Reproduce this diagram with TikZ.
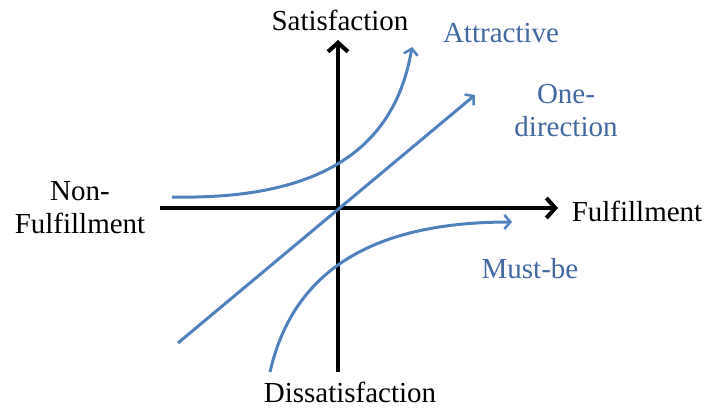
\documentclass[tikz,border=0pt]{standalone}
\usepackage{fontspec}
\setmainfont{Liberation Serif}
\usetikzlibrary{arrows.meta}
\definecolor{curveblue}{RGB}{79,129,189}
\definecolor{labelblue}{RGB}{66,104,162}
\tikzset{
  axis/.style={line width=4pt, -{Straight Barb[length=9pt,width=20pt,line width=4pt]}},
  curve/.style={line width=3pt, curveblue, -{Straight Barb[length=6pt,width=14pt,line width=2.5pt]}},
  blacklabel/.style={font=\fontsize{29}{33}\selectfont, text=black, inner sep=0pt, align=center},
  bluelabel/.style={font=\fontsize{29}{33}\selectfont, text=labelblue, inner sep=0pt, align=center}
}
\begin{document}
\begin{tikzpicture}[x=1pt,y=-1pt]
\useasboundingbox (0,0) rectangle (708,407);
% axes endpoints
\coordinate (hstart) at (160,208);
\coordinate (hend) at (558,208);
\coordinate (vstart) at (338,372);
\coordinate (vend) at (338,40);
\draw[axis] (hstart) -- (hend);
\draw[axis] (vstart) -- (vend);
% curves
\coordinate (a0) at (172,197);
\coordinate (a1) at (412,47);
\draw[curve] (a0) .. controls (322,200) and (395,148) .. (a1);
\coordinate (o0) at (178,343);
\coordinate (o1) at (475,95);
\draw[curve] (o0) -- (o1);
\coordinate (m0) at (270,372);
\coordinate (m1) at (512,222);
\draw[curve] (m0) .. controls (295,262) and (385,222) .. (m1);
% labels
\node[blacklabel] (sat) at (340,20) {Satisfaction};
\node[blacklabel] (dis) at (350,392) {Dissatisfaction};
\node[blacklabel] (ful) at (637,211) {Fulfillment};
\node[blacklabel] (non) at (80,208) {Non-\\Fulfillment};
\node[bluelabel] (att) at (501,33) {Attractive};
\node[bluelabel] (one) at (566,111) {One-\\direction};
\node[bluelabel] (must) at (530,269) {Must-be};
\end{tikzpicture}
\end{document}
